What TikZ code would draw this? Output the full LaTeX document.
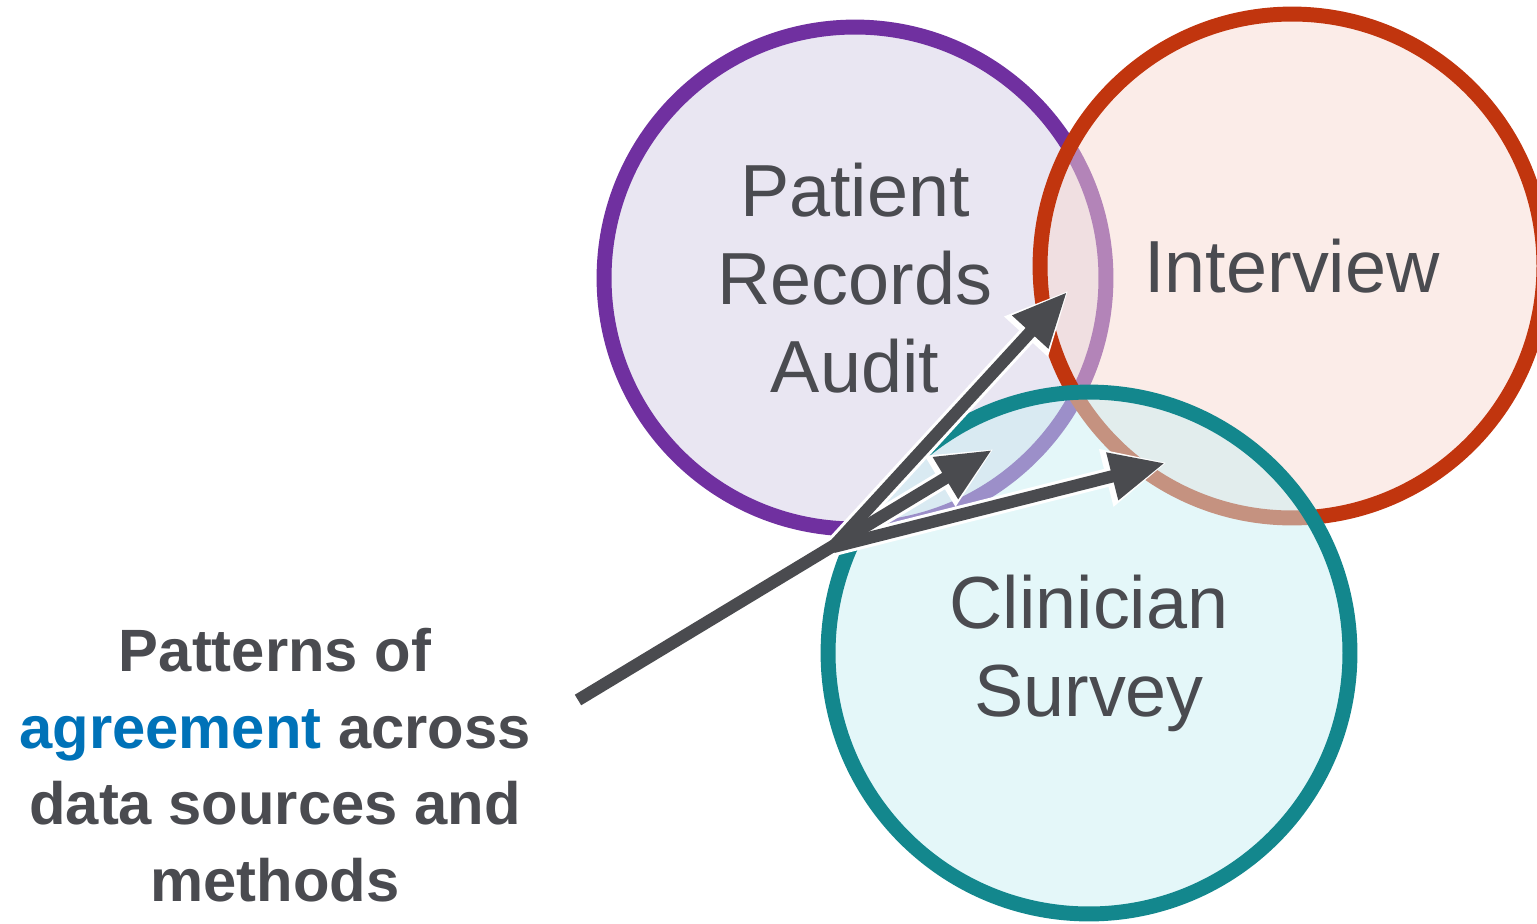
\documentclass[tikz,border=0pt]{standalone}
\usepackage{fontspec}
\setmainfont{Liberation Sans}
\usepackage{tikz}
\usetikzlibrary{arrows.meta}
\definecolor{auditPurple}{RGB}{112, 48, 160}
\definecolor{interviewRed}{RGB}{193, 53, 14}
\definecolor{surveyTeal}{RGB}{19, 135, 141}
\definecolor{auditFill}{RGB}{211, 205, 229}
\definecolor{interviewFill}{RGB}{247, 217, 209}
\definecolor{surveyFill}{RGB}{201, 239, 243}
\definecolor{inkGray}{RGB}{74, 75, 80}
\definecolor{arrowGray}{RGB}{74, 75, 79}
\definecolor{agreeBlue}{RGB}{0, 114, 184}
\tikzset{
  venn/.style={circle, line width=8.5pt, fill opacity=0.5, text opacity=1,
               text=inkGray, align=center, inner sep=0pt,
               font=\fontsize{42}{50}\selectfont},
  vennP/.style={venn, draw=auditPurple, fill=auditFill, minimum size=10.04cm},
  vennR/.style={venn, draw=interviewRed, fill=interviewFill, minimum size=10.08cm},
  vennT/.style={venn, draw=surveyTeal, fill=surveyFill, minimum size=10.44cm},
  halo/.style={draw=white, line width=10.5pt, shorten >=-1.5pt,
               -{Triangle[length=36pt, width=31pt]}},
  pointer/.style={draw=arrowGray, line width=7pt,
                  -{Triangle[length=31pt, width=26pt]}},
}

\begin{document}
\begin{tikzpicture}[x=0.02cm, y=-0.02cm]
    \useasboundingbox (0,0) rectangle (1537,923);

    % the three data sources
    \node[vennP] (audit) at (855,278) {Patient\\Records\\Audit};
    \node[vennR] (interview) at (1292,266) {Interview};
    \node[vennT] (survey) at (1089,653) {Clinician\\Survey};

    \node[text=inkGray, align=center, font=\fontsize{34}{43.6}\selectfont\bfseries]
      (caption) at (275,765)
      {Patterns of\\\textcolor{agreeBlue}{agreement} across\\data sources and\\methods};

    % pointers into the overlaps
    \coordinate (tail) at (578,700);
    \coordinate (hub) at (833,547);
    \coordinate (tipAI) at (1067,292);
    \coordinate (tipAS) at (992,450);
    \coordinate (tipIS) at (1165,463);

    \foreach \s/\t in {tail/tipAS, hub/tipAI, hub/tipIS}
      \draw[halo] (\s) -- (\t);
    \foreach \s/\t in {tail/tipAS, hub/tipAI, hub/tipIS}
      \draw[pointer] (\s) -- (\t);
\end{tikzpicture}
\end{document}
